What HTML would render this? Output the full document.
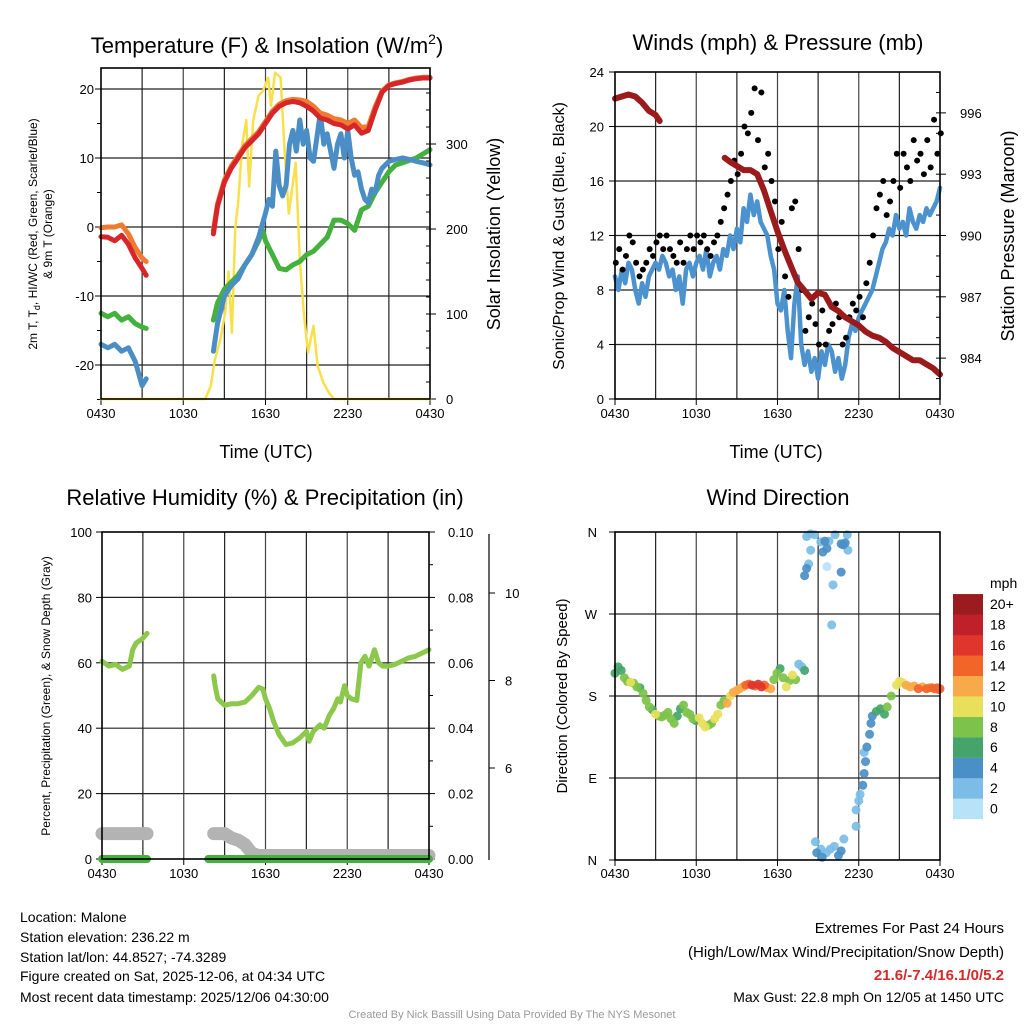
<!DOCTYPE html>
<html><head><meta charset="utf-8"><style>
html,body{margin:0;padding:0;background:#fff;}
svg{display:block;font-family:"Liberation Sans",sans-serif;}
</style></head><body>
<svg id="c" width="1024" height="1024" viewBox="0 0 1024 1024" xmlns="http://www.w3.org/2000/svg">
<rect width="1024" height="1024" fill="#fff"/>
<g id="g1"></g>
<g id="g2"></g>
<g id="g3"></g>
<g id="g4"></g>
<text x="267" y="53" font-size="22" text-anchor="middle">Temperature (F) &amp; Insolation (W/m<tspan font-size="14" dy="-9">2</tspan><tspan dy="9">)</tspan></text>
<text x="778" y="50" font-size="22" text-anchor="middle">Winds (mph) &amp; Pressure (mb)</text>
<text x="265" y="505" font-size="22" text-anchor="middle">Relative Humidity (%) &amp; Precipitation (in)</text>
<text x="778" y="505" font-size="22" text-anchor="middle">Wind Direction</text>
<text x="266" y="458" font-size="18" text-anchor="middle">Time (UTC)</text>
<text x="776" y="458" font-size="18" text-anchor="middle">Time (UTC)</text>
<text transform="translate(37,234) rotate(-90)" font-size="12" text-anchor="middle">2m T, T<tspan font-size="9" dy="3">d</tspan><tspan dy="-3">, HI/WC (Red, Green, Scarlet/Blue)</tspan></text>
<text transform="translate(52,234) rotate(-90)" font-size="12" text-anchor="middle">&amp; 9m T (Orange)</text>
<text transform="translate(500,234) rotate(-90)" font-size="18" text-anchor="middle">Solar Insolation (Yellow)</text>
<text transform="translate(564,236) rotate(-90)" font-size="16" text-anchor="middle">Sonic/Prop Wind &amp; Gust (Blue, Black)</text>
<text transform="translate(1014,236) rotate(-90)" font-size="18" text-anchor="middle">Station Pressure (Maroon)</text>
<text transform="translate(50,696) rotate(-90)" font-size="12" text-anchor="middle">Percent, Precipitation (Green), &amp; Snow Depth (Gray)</text>
<text transform="translate(567,696) rotate(-90)" font-size="15" text-anchor="middle">Direction (Colored By Speed)</text>
<g font-size="14">
<text x="20" y="922">Location: Malone</text>
<text x="20" y="942">Station elevation: 236.22 m</text>
<text x="20" y="962">Station lat/lon: 44.8527; -74.3289</text>
<text x="20" y="981">Figure created on Sat, 2025-12-06, at 04:34 UTC</text>
<text x="20" y="1002">Most recent data timestamp: 2025/12/06 04:30:00</text>
</g>
<g font-size="15" text-anchor="end">
<text x="1004" y="933">Extremes For Past 24 Hours</text>
<text x="1004" y="957">(High/Low/Max Wind/Precipitation/Snow Depth)</text>
<text x="1004" y="980" fill="#d42a2a" font-weight="bold">21.6/-7.4/16.1/0/5.2</text>
<text x="1004" y="1002" font-size="14">Max Gust: 22.8 mph On 12/05 at 1450 UTC</text>
</g>
<text x="512" y="1018" font-size="11" fill="#999" text-anchor="middle">Created By Nick Bassill Using Data Provided By The NYS Mesonet</text>
</svg>
<script>
// ---------- data ----------
const xTickLabels = ["0430","1030","1630","2230","0430"];
const tTimes = [0,0.5,1,1.5,2,2.5,3,3.3,null,8.2,8.5,9,9.5,10,10.5,11,11.5,12,12.5,13,13.5,14,14.5,15,15.5,16,16.5,17,17.5,18,18.5,19,19.5,20,20.5,21,21.5,22,22.5,23,23.5,24];
const tempRed = [-1.4,-1.5,-2,-1.2,-2.5,-4.5,-6,-7,null,-1,3,6.5,8.5,10,11.5,12.5,13.5,15,16.5,17.5,18,18.2,18,17.5,16.8,15.8,15.5,15,14.8,14.2,14.8,13.6,14,17,19.5,20.5,20.8,21,21.3,21.5,21.6,21.6];
const temp9m = [-0.1,0,0,0.3,-1,-3,-4.5,-5,null,-0.5,3.3,6.8,8.8,10.3,11.8,12.8,13.8,15.3,16.8,17.8,18.3,18.5,18.4,18.2,17.5,16.5,16.2,15.7,15.5,15,15.5,14.4,14.6,17.4,19.7,20.6,20.9,21.1,21.4,21.6,21.7,21.7];
const dewTimes = [0,0.5,1,1.5,2,2.5,3,3.3,null,8.2,8.5,9,9.5,10,10.5,11,11.5,11.8,12,12.5,13,13.5,14,14.5,15,15.5,16,16.5,17,17.5,18,18.5,19,19.5,20,20.5,21,21.5,22,23,24];
const dewGreen = [-12.5,-13,-12.5,-13.5,-13,-14,-14.5,-14.7,null,-13.5,-11,-9,-8,-7,-5.5,-4,-2,-0.5,-2,-4,-6,-6.2,-5.5,-5,-4,-3.5,-2.5,-1.5,1,1,0.5,-0.5,2.5,3,5,6.5,8,9,9.3,10,11.2];
const wcTimes = [0,0.5,1,1.5,2,2.5,3,3.3,null,8.2,8.5,9,9.5,10,10.5,11,11.5,12,12.25,12.5,12.75,13,13.25,13.5,13.75,14,14.25,14.5,14.75,15,15.25,15.5,15.75,16,16.25,16.5,16.75,17,17.25,17.5,17.75,18,18.25,18.5,18.75,19,19.25,19.5,19.75,20,20.25,20.5,21,21.5,22,22.5,23,23.5,24];
const wcBlue = [-17,-17.5,-17,-18,-17.5,-19.5,-23,-22,null,-18,-14,-10,-8.5,-7.5,-5.5,-4,-1.5,2,4,3,11,6,4.5,6,12,14,11,15.5,12,14,10,9.5,13,16.5,12,13.5,11,8.5,12,13.5,10,14,10,7.5,8,5.5,4,3.5,5.5,5,7.5,8.5,9.5,9.8,10,9.8,9.5,9.3,9];
const solTimes = [0,7.6,8.0,8.3,8.7,9.05,9.3,9.55,9.8,10.0,10.3,10.6,10.8,11.1,11.5,11.8,12.2,12.4,12.7,13.1,13.4,13.7,13.9,14.2,14.5,14.8,15.1,15.5,15.8,16.2,16.6,17,24];
const solar = [0,0,15,46,70,101,150,78,202,230,300,328,250,328,357,362,378,345,384,378,290,218,242,278,164,100,55,86,39,20,8,0,0];

const windTimes = []; for (let i = 0; i <= 96; i++) windTimes.push(i * 0.25);
const windSpeed = [9,8,9.5,8.5,10,9.5,8,7,8.5,7.5,9,9.5,10,9.5,10.5,10,9,9.5,8,9,7,9.5,10,9,10,10.5,9.5,11,9,10,10.5,9.5,11,10.5,12,11,12.5,11.5,14,13,15,13.5,14.5,13,12.5,12,10.5,9.5,7,6.5,8,5,3,7,9,4,2.5,3.5,2,3,1.5,3.5,2.5,4,3.5,2,3,1.5,2.5,4.5,5.5,5,6,6.5,7,7.5,8,9,10,11,11.5,12.5,12,13.5,12.5,13,12,14,13,12.5,13.5,13,14,13.5,14,14.5,15.5,13];
const windGust = [10,11,9.5,10.5,12,11.5,10,9,9.5,10,11,10.5,11.5,12,11,12,11,10.5,10,11.5,10,11,12,11,12,11.5,12,11,10.5,11.5,12,13,14,15,16,17.5,16.5,18,20,19.5,21,22.8,19,22.5,17,18,16,14.5,11,13,9,7.5,14,14.5,11,8,5,6,7,5.5,4,6.5,4,5,5.5,7,6,4,4.5,6,7,6.5,7.5,6,8.5,10,12,14,15,16,13.5,14.5,16,18,15.5,18,17,16,19,17.5,18,16.5,19,17,20.5,18,19.5];
const presTimes = [0,0.5,1,1.5,2,2.5,3,3.3,null,8.1,8.5,9,9.5,10,10.5,11,11.5,12,12.5,13,13.5,14,14.5,15,15.5,16,16.5,17,17.5,18,18.5,19,19.5,20,20.5,21,21.5,22,22.5,23,23.5,24];
const pressure = [996.7,996.8,996.9,996.8,996.5,996.1,995.9,995.6,null,993.8,993.6,993.4,993.2,993.2,993.0,992.2,991.2,990.2,989.3,988.5,987.7,987.3,986.9,987.2,987.1,986.5,986.3,986.0,985.8,985.6,985.3,985.1,985.0,984.8,984.5,984.3,984.1,983.9,983.9,983.7,983.5,983.2];

const rhTimes = [0,0.5,1,1.5,2,2.25,2.5,3,3.3,null,8.2,8.3,8.5,9,9.5,10,10.5,11,11.5,11.8,12,12.3,12.6,13,13.5,14,14.5,15,15.2,15.5,16,16.3,16.7,17,17.3,17.5,17.8,18,18.3,18.7,19,19.3,19.6,20,20.3,20.6,21,21.5,22,22.5,23,24];
const rh = [60.5,59,59.5,58,59,64,66,67.5,69,null,56,53,49,47,47.5,47.5,48,50,52.5,52,49,46,42,38,35,35.5,37,39,36,39,41,40,44,46,49,48,53,50,49,48.5,60,62,59,64,60,59,59,59.5,60.5,61.5,62,64];
const precipTimes = [0,3.3,null,7.8,24];
const precip = [0,0,null,0,0];
const snowTimes = [0,3.3,null,8.2,9,9.5,10,10.5,11,11.5,24];
const snowDepth = [4.5,4.5,null,4.5,4.5,4.4,4.35,4.25,4.05,4.0,4.0];
const pctTicks = [0,20,40,60,80,100];
const precipTicks = ["0.00","0.02","0.04","0.06","0.08","0.10"];
const snowTicks = [6,8,10];

const dirTimes = [0,0.23,0.46,0.69,0.92,1.15,1.38,1.61,1.84,2.07,2.3,2.53,2.76,2.99,3.22,3.45,3.68,3.91,4.14,4.37,4.6,4.83,5.06,5.29,5.52,5.75,5.98,6.21,6.44,6.67,6.9,7.13,7.36,7.59,7.82,8.05,8.28,8.51,8.74,8.97,9.2,9.43,9.66,9.89,10.12,10.35,10.58,10.81,11.04,11.27,11.5,11.73,11.96,12.19,12.42,12.65,12.88,13.11,13.34,13.57,13.8,14.0,
14.15,14.45,14.75,14.3,14.15,14.0,14.45,15.2,15.5,15.65,15.8,15.35,16.25,16.7,16.85,17.0,17.15,17.2,16.7,16.1,16.0,15.65,
14.8,14.9,15.2,15.3,15.6,15.9,16.2,16.5,16.7,16.9,17.8,17.8,18.0,18.1,18.3,18.4,18.5,18.4,18.6,18.8,18.9,19.0,19.3,19.6,19.9,20.1,20.4,20.8,21.0,21.2,21.5,21.8,22.1,22.4,22.7,23.0,23.2,23.4,23.6,23.8,23.9,24];
const dirDeg = [205,212,208,200,196,195,194,190,189,183,175,168,165,160,158,157,159,162,155,150,158,166,170,162,160,155,153,156,150,146,148,150,155,160,170,175,172,180,184,186,188,190,192,193,192,191,193,190,192,189,188,198,205,210,200,190,197,203,198,215,212,208,
355,358,357,325,320,312,340,349,350,342,350,338,357,347,346,348,357,340,316,302,258,322,
20,8,12,3,8,12,15,5,10,23,55,37,65,72,82,95,108,118,124,138,150,158,163,166,160,168,180,192,196,195,192,190,191,188,190,188,189,189,188,189,187,188];
const dirSpeed = [7,6,7,8,9,10,9,8,6,8,8,8,7,10,9,8,8,8,8,8,7,6,8,8,9,8,7,10,10,10,8,8,10,10,8,9,12,10,12,12,12,13,14,15,16,14,16,17,15,12,13,8,8,6,8,10,9,10,9,3,3,6,
2,2,2,3,4,4,2,2,4,4,2,4,2,4,4,4,2,2,4,2,2,1,
2,4,2,4,2,2,2,4,4,2,2,2,2,2,4,4,4,2,4,4,4,4,6,6,6,8,8,10,10,10,12,12,12,14,12,14,12,14,14,14,14,14];
const dirTicks = ["N","E","S","W","N"];
const cbarLabels = ["0","2","4","6","8","10","12","14","16","18","20+"];
const cbarColors = ["#b8e2f8","#7bbde6","#4a8fc6","#44a46a","#7dc24a","#e8e05a","#f8a94a","#f26529","#e0352c","#c0202a","#9b1c1f"];
const tempTicks = [-20,-10,0,10,20];
const solarTicks = [0,100,200,300];
const windTicks = [0,4,8,12,16,20,24];
const presTicks = [984,987,990,993,996];

// ---------- scales ----------
const P1 = {x0:101,x1:430,y0:68,y1:399};
const P2 = {x0:615,x1:940,y0:72,y1:399};
const P3 = {x0:102,x1:429,y0:532,y1:859};
const P4 = {x0:615,x1:940,y0:532,y1:860};
const xs = P => h => P.x0 + h*(P.x1-P.x0)/24;
const x1 = xs(P1), x2 = xs(P2), x3 = xs(P3), x4 = xs(P4);
const yT = v => 227 - 6.9*v;
const yS = s => 399 - 0.85*s;
const yW = v => 399 - v*(327/24);
const yP = p => 399 - (p-982)*(327/16);
const yR = v => 859 - v*3.27;
const yPr = v => 859 - v*3270;
const ySn = v => 855.5 - (v-4)*43.75;
const yD = d => 860 - d*(328/360);

const NS = "http://www.w3.org/2000/svg";
function mk(tag, attrs, parent) {
  const e = document.createElementNS(NS, tag);
  for (const k in attrs) e.setAttribute(k, attrs[k]);
  parent.appendChild(e);
  return e;
}
function pathD(ts, vs, fx, fy) {
  let d = "", pen = false;
  for (let i = 0; i < ts.length; i++) {
    if (ts[i] === null || vs[i] === null) { pen = false; continue; }
    d += (pen ? "L" : "M") + fx(ts[i]).toFixed(1) + "," + fy(vs[i]).toFixed(1);
    pen = true;
  }
  return d;
}
function series(g, ts, vs, fx, fy, color, w, name) {
  const p = mk("path", {d: pathD(ts, vs, fx, fy), fill: "none", stroke: color, "stroke-width": w, "stroke-linejoin": "round", "stroke-linecap": "round"}, g);
  
  
  return p;
}
function txt(g, x, y, s, size, anchor, name) {
  const t = mk("text", {x: x, y: y, "font-size": size, "text-anchor": anchor}, g);
  t.textContent = s;
  
  
  return t;
}
function frame(g, P, fx, hy, fyFn, tickLabelY) {
  for (let h = 3; h < 24; h += 3) {
    const l = mk("line", {x1: fx(h), x2: fx(h), y1: P.y0, y2: P.y1, stroke: h%6===0 ? "#444" : "#222", "stroke-width": 1.2}, g);
    
    
  }
  hy.forEach(v => {
    const l = mk("line", {x1: P.x0, x2: P.x1, y1: fyFn(v), y2: fyFn(v), stroke: "#222", "stroke-width": 1.2}, g);
    
    
  });
  xTickLabels.forEach((s, i) => {
    const xx = fx(i*6);
    const tk = mk("line", {x1: xx, x2: xx, y1: P.y1, y2: P.y1+6, stroke: "#000", "stroke-width": 1}, g);
    
    
    txt(g, xx, tickLabelY, s, 13, "middle", "x-tick-label");
  });
}
function border(g, P) {
  const r = mk("rect", {x: P.x0, y: P.y0, width: P.x1-P.x0, height: P.y1-P.y0, fill: "none", stroke: "#000", "stroke-width": 1.6}, g);
  
  
}
function ltick(g, x, y, len) {
  const l = mk("line", {x1: x, x2: x+len, y1: y, y2: y, stroke: "#000", "stroke-width": 1}, g);
  
  
}

// ---------- panel 1 ----------
const g1 = document.getElementById("g1");
frame(g1, P1, x1, tempTicks, yT, 418);
tempTicks.forEach(v => { ltick(g1, P1.x0-6, yT(v), 6); txt(g1, 94, yT(v)+5, String(v), 13, "end", "temp-tick-label"); });
for (let v = -25; v <= 20; v += 5) ltick(g1, P1.x0-4, yT(v), 4);
solarTicks.forEach(v => { ltick(g1, P1.x1, yS(v), 6); txt(g1, 446, yS(v)+5, String(v), 13, "start", "solar-tick-label"); });
for (let v = 20; v < 389; v += 20) ltick(g1, P1.x1-4, yS(v), 4);
series(g1, solTimes, solar, x1, yS, "#f9e04b", 2.5, "solar-insolation-line");
series(g1, dewTimes, dewGreen, x1, yT, "#44b03e", 5, "dewpoint-line");
series(g1, wcTimes, wcBlue, x1, yT, "#4b8ec6", 5, "wind-chill-line");
series(g1, tTimes, temp9m, x1, yT, "#f07a30", 5, "temp-9m-line");
series(g1, tTimes, tempRed, x1, yT, "#d7262a", 5, "temp-2m-line");
border(g1, P1);

// ---------- panel 2 ----------
const g2 = document.getElementById("g2");
frame(g2, P2, x2, [4,8,12,16,20], yW, 418);
windTicks.forEach(v => { ltick(g2, P2.x0-6, yW(v), 6); txt(g2, 604, yW(v)+5, String(v), 13, "end", "wind-tick-label"); });
presTicks.forEach(v => { ltick(g2, P2.x1, yP(v), 6); txt(g2, 960, yP(v)+5, String(v), 13, "start", "pressure-tick-label"); });
for (let v = 983; v <= 997; v += 1) ltick(g2, P2.x1-4, yP(v), 4);
series(g2, windTimes, windSpeed, x2, yW, "#4b92cf", 4.5, "wind-speed-line");
windTimes.forEach((t, i) => {
  const c = mk("circle", {cx: x2(t+0.06), cy: yW(windGust[i]), r: 3, fill: "#000"}, g2);
  
  
});
series(g2, presTimes, pressure, x2, yP, "#9b1a1c", 6, "pressure-line");
border(g2, P2);

// ---------- panel 3 ----------
const g3 = document.getElementById("g3");
frame(g3, P3, x3, [20,40,60,80], yR, 878);
pctTicks.forEach(v => { ltick(g3, P3.x0-6, yR(v), 6); txt(g3, 92, yR(v)+5, String(v), 13, "end", "percent-tick-label"); });
precipTicks.forEach((s, i) => { ltick(g3, P3.x1, yR(i*20), 6); txt(g3, 448, yR(i*20)+5, s, 13, "start", "precip-tick-label"); });
for (let v = 10; v < 100; v += 20) ltick(g3, P3.x1, yR(v), 4);
const sx = mk("line", {x1: 489, x2: 489, y1: 534, y2: 860, stroke: "#000", "stroke-width": 1.2}, g3);


snowTicks.forEach(v => { ltick(g3, 489, ySn(v), 6); txt(g3, 505, ySn(v)+5, String(v), 13, "start", "snow-tick-label"); });
series(g3, rhTimes, rh, x3, yR, "#8cc84b", 5, "humidity-line");
series(g3, snowTimes, snowDepth, x3, ySn, "#b3b3b3", 13, "snow-depth-line");
series(g3, precipTimes, precip, x3, yPr, "#44b03e", 8, "precipitation-line");
border(g3, P3);

// ---------- panel 4 ----------
const g4 = document.getElementById("g4");
frame(g4, P4, x4, [90,180,270], yD, 878);
dirTicks.forEach((s, i) => { ltick(g4, P4.x0-6, yD(i*90), 6); txt(g4, 597, yD(i*90)+5, s, 13, "end", "direction-tick-label"); });
const sorted = dirTimes.map((t, i) => i).sort((a, b) => dirSpeed[a] - dirSpeed[b]);
sorted.forEach(i => {
  const ci = Math.min(10, Math.floor(dirSpeed[i] / 2));
  const c = mk("circle", {cx: x4(dirTimes[i]), cy: yD(dirDeg[i]), r: 4.5, fill: cbarColors[ci], "fill-opacity": 0.92}, g4);
  
  
});
border(g4, P4);
txt(g4, 990, 588, "mph", 14, "start", "colorbar-unit");
cbarLabels.forEach((s, i) => {
  const yy = 819 - (i+1)*20.45;
  const r = mk("rect", {x: 953, y: yy, width: 30, height: 20.6, fill: cbarColors[i]}, g4);
  
  
  txt(g4, 990, yy + 15, s, 14, "start", "colorbar-label");
});
</script>
</body></html>
